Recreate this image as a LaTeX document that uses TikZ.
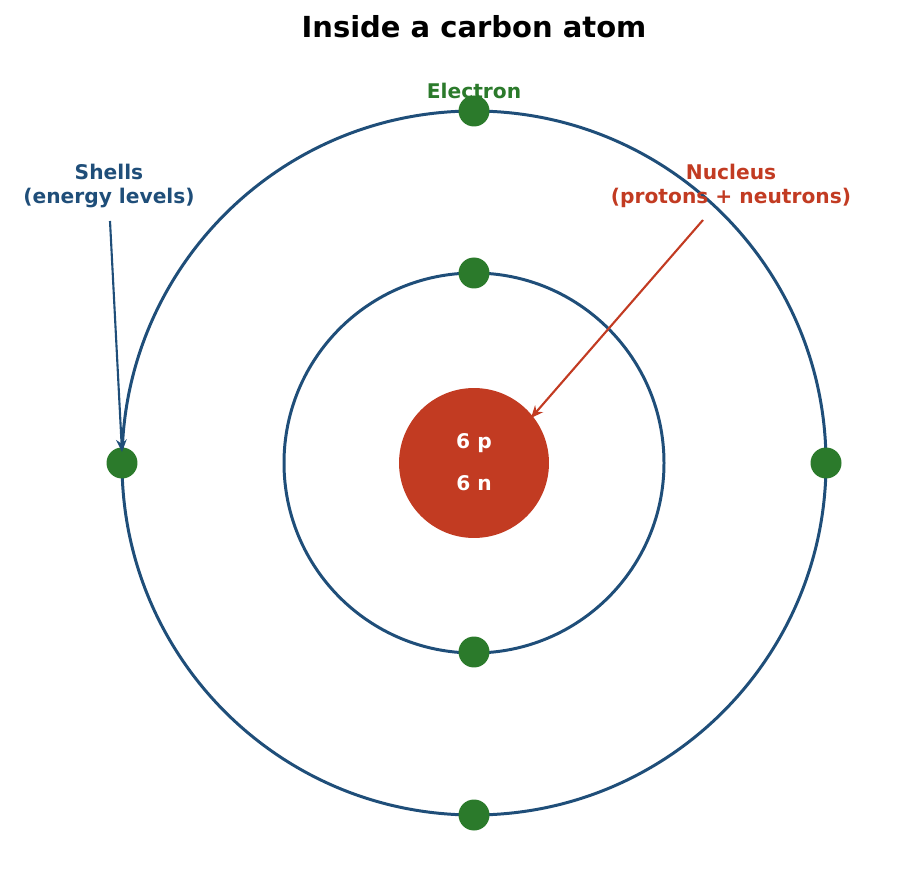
\documentclass[tikz,border=0pt]{standalone}
\usepackage{fontspec}
\setmainfont{DejaVu Sans}
\usetikzlibrary{arrows.meta}
\definecolor{shellblue}{HTML}{1F4E79}
\definecolor{elgreen}{HTML}{2B7A2B}
\definecolor{nucred}{HTML}{C23B22}
\tikzset{
  shell/.style={draw=shellblue, line width=1.7pt},
  electron/.style={circle, fill=elgreen, minimum size=0.62cm, inner sep=0pt},
  lbl/.style={font=\bfseries\fontsize{11.5}{14}\selectfont, align=center},
  pointer/.style={line width=1.2pt, -{Stealth[length=7pt,width=6pt]}}
}
\begin{document}
\begin{tikzpicture}[x=0.02cm, y=-0.02cm]
\useasboundingbox (0,0) rectangle (922,884);
%title
	\node[font=\bfseries\fontsize{16.5}{20}\selectfont] (title) at (474,27) {Inside a carbon atom};
%shells
	\draw[shell] (474,463) circle (352);
	\draw[shell] (474,463) circle (190);
%nucleus
	\node[circle, fill=nucred, minimum size=3cm, inner sep=0pt] (nucleus) at (474,463) {};
	\node[lbl, white] (p) at (474,443) {6 p};
	\node[lbl, white] (n) at (474,483) {6 n};
%electrons
	\foreach \xy/\name in {{(474,111)/e1},{(474,815)/e2},{(122,463)/e3},{(826,463)/e4},{(474,273)/e5},{(474,652)/e6}} {
		\node[electron] (\name) at \xy {};
	}
%labels
	\node[lbl, elgreen] (elabel) at (474,91) {Electron};
	\node[lbl, shellblue] (slabel) at (109,186) {Shells\\(energy levels)};
	\node[lbl, nucred] (nlabel) at (731,186) {Nucleus\\(protons + neutrons)};
	\coordinate (stail) at (110,221);
	\coordinate (shead) at (122,452);
	\coordinate (ntail) at (703,220);
	\coordinate (nhead) at (531,418);
	\draw[pointer, shellblue] (stail) -- (shead);
	\draw[pointer, nucred] (ntail) -- (nhead);
\end{tikzpicture}
\end{document}
